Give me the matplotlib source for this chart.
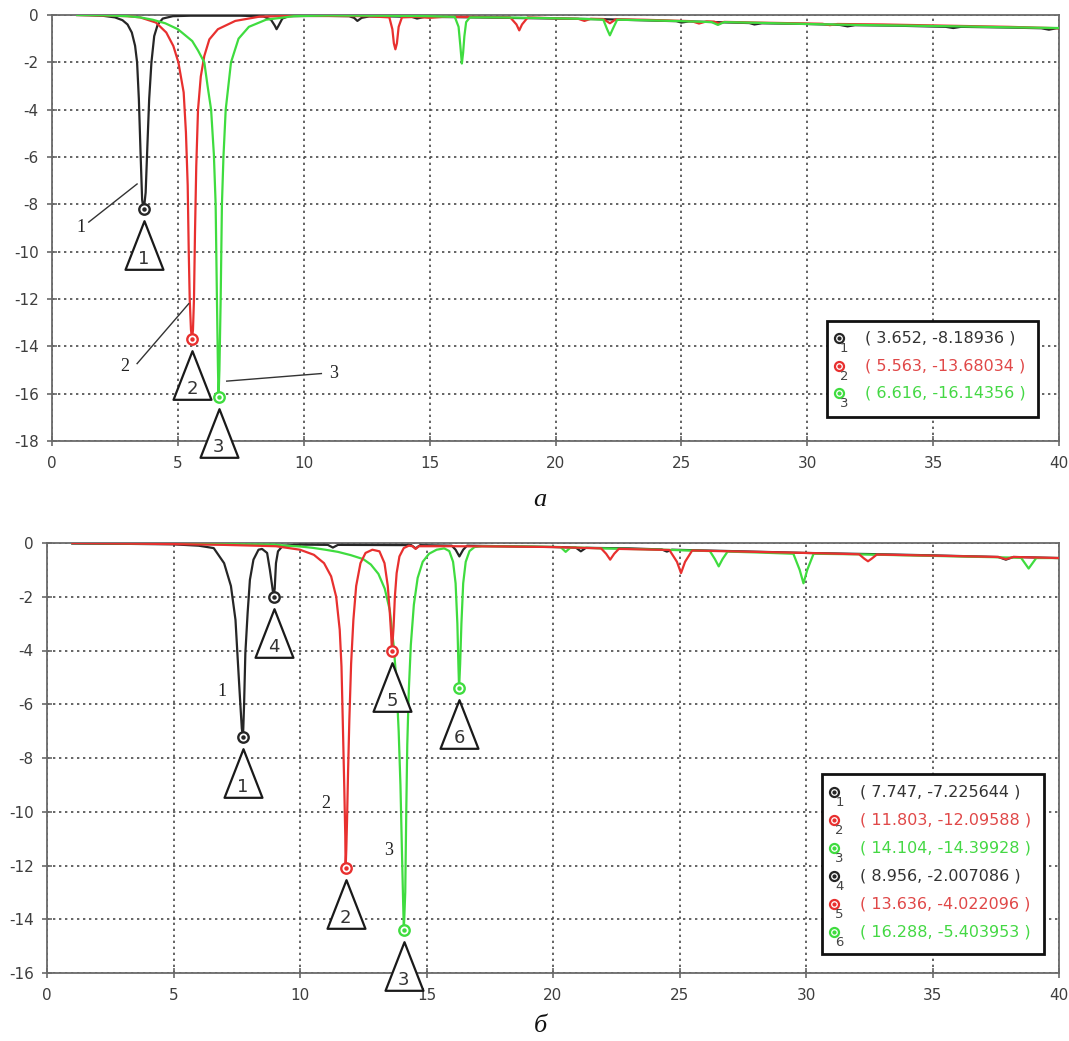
import matplotlib
matplotlib.use("Agg")
import matplotlib.pyplot as plt
from matplotlib.path import Path
from matplotlib.patches import Rectangle
import matplotlib.transforms as mtransforms

plt.rcParams['axes.unicode_minus'] = False
plt.rcParams['font.family'] = ['DejaVu Sans']

# ---------------- panel "а" data ----------------
a_k_x = [1.0, 1.5, 2.0, 2.5, 2.8, 3.0, 3.17, 3.3, 3.38, 3.45, 3.52, 3.58, 3.62, 3.652, 3.69, 3.72,
         3.79, 3.86, 3.95, 4.06, 4.2, 4.4, 4.8, 5.5, 6.5, 7.5, 8.4, 8.7, 8.85, 8.92, 9.0, 9.15, 9.4,
         10.0, 11.0, 11.8, 12.0, 12.13, 12.3, 12.6, 13.5, 14.3, 14.5, 14.8, 16.0, 18.0, 20.0, 22.0,
         24.0, 24.8, 25.0, 25.3, 27.0, 27.7, 27.9, 28.2, 30.0, 31.3, 31.6, 31.9, 33.5, 35.5, 35.8,
         36.1, 38.0, 39.3, 39.6, 39.9, 40.0]
a_k_y = [0.0, -0.01, -0.03, -0.1, -0.22, -0.4, -0.74, -1.3, -2.0, -3.55, -5.9, -7.8, -8.1, -8.19,
         -7.8, -7.5, -5.5, -3.55, -2.0, -0.89, -0.4, -0.15, -0.05, -0.03, -0.03, -0.03, -0.06, -0.2,
         -0.45, -0.6, -0.45, -0.15, -0.05, -0.04, -0.04, -0.05, -0.12, -0.25, -0.12, -0.06, -0.06,
         -0.08, -0.15, -0.08, -0.09, -0.12, -0.15, -0.18, -0.24, -0.26, -0.32, -0.27, -0.32, -0.34,
         -0.4, -0.35, -0.38, -0.42, -0.48, -0.43, -0.45, -0.5, -0.55, -0.5, -0.53, -0.56, -0.62,
         -0.56, -0.56]

a_r_x = [1.0, 2.0, 3.0, 3.5, 4.13, 4.54, 4.82, 5.02, 5.23, 5.32, 5.39, 5.43, 5.47, 5.52, 5.563,
         5.6, 5.64, 5.68, 5.73, 5.8, 5.91, 6.05, 6.25, 6.59, 7.28, 8.24, 9.5, 11.0, 12.5, 13.4,
         13.52, 13.58, 13.64, 13.7, 13.77, 13.9, 14.5, 15.0, 15.5, 16.5, 18.2, 18.45, 18.56, 18.67,
         18.9, 20.0, 20.9, 21.15, 21.4, 21.9, 22.16, 22.4, 23.5, 25.4, 25.7, 26.0, 26.3, 26.5, 26.7,
         28.0, 30.6, 30.9, 31.2, 33.0, 36.0, 38.0, 40.0]
a_r_y = [0.0, -0.02, -0.05, -0.1, -0.32, -0.74, -1.31, -2.0, -3.27, -4.96, -7.2, -9.9, -12.0,
         -13.3, -13.68, -13.3, -12.0, -9.2, -6.4, -4.0, -2.6, -1.73, -1.03, -0.6, -0.25, -0.07,
         -0.04, -0.04, -0.05, -0.1, -0.6, -1.2, -1.45, -1.2, -0.5, -0.1, -0.08, -0.12, -0.08, -0.08,
         -0.1, -0.4, -0.65, -0.4, -0.1, -0.14, -0.16, -0.25, -0.16, -0.17, -0.35, -0.18, -0.2,
         -0.26, -0.36, -0.27, -0.28, -0.36, -0.29, -0.32, -0.37, -0.43, -0.38, -0.4, -0.46, -0.5,
         -0.56]

a_g_x = [1.0, 2.0, 3.0, 3.5, 4.0, 4.5, 5.0, 5.57, 5.8, 6.05, 6.18, 6.32, 6.43, 6.5, 6.55, 6.59,
         6.616, 6.65, 6.7, 6.75, 6.81, 6.9, 7.11, 7.41, 7.82, 8.5, 9.6, 11.0, 13.0, 15.0, 16.0,
         16.15, 16.22, 16.28, 16.33, 16.38, 16.45, 16.6, 17.5, 19.0, 20.0, 21.0, 21.9, 22.05, 22.16,
         22.27, 22.45, 23.5, 25.0, 26.2, 26.45, 26.7, 28.0, 30.0, 32.0, 34.0, 36.0, 38.0, 40.0]
a_g_y = [0.0, -0.01, -0.05, -0.1, -0.2, -0.35, -0.6, -1.1, -1.5, -2.0, -3.0, -4.0, -5.9, -8.0,
         -11.9, -14.8, -16.14, -15.0, -12.0, -8.0, -6.0, -4.0, -2.0, -1.0, -0.5, -0.2, -0.05, -0.02,
         -0.03, -0.05, -0.08, -0.5, -1.3, -2.05, -1.6, -0.9, -0.3, -0.1, -0.1, -0.12, -0.14, -0.16,
         -0.2, -0.6, -0.86, -0.6, -0.2, -0.22, -0.26, -0.3, -0.42, -0.3, -0.33, -0.38, -0.42, -0.45,
         -0.48, -0.52, -0.55]

a_mark_x = [3.652, 5.563, 6.616]
a_mark_y = [-8.18936, -13.68034, -16.14356]

# ---------------- panel "б" data ----------------
b_k_x = [1.0, 3.0, 5.0, 6.0, 6.59, 7.0, 7.27, 7.45, 7.54, 7.64, 7.7, 7.747, 7.79, 7.84, 7.93, 8.02,
         8.16, 8.36, 8.5, 8.7, 8.81, 8.9, 8.956, 9.0, 9.05, 9.13, 9.32, 10.0, 11.1, 11.3, 11.5,
         14.4, 14.57, 14.75, 16.0, 16.15, 16.3, 16.45, 16.6, 18.0, 20.0, 20.9, 21.1, 21.3, 23.0,
         24.3, 24.5, 24.7, 27.0, 30.0, 33.0, 35.0, 37.6, 37.9, 38.2, 40.0]
b_k_y = [-0.02, -0.03, -0.05, -0.1, -0.19, -0.75, -1.6, -2.86, -4.35, -5.97, -6.9, -7.23, -6.0,
         -4.1, -2.6, -1.37, -0.62, -0.25, -0.22, -0.37, -1.0, -1.6, -2.0, -1.7, -0.75, -0.31, -0.1,
         -0.06, -0.07, -0.17, -0.07, -0.08, -0.2, -0.08, -0.1, -0.25, -0.5, -0.25, -0.1, -0.12,
         -0.15, -0.17, -0.31, -0.18, -0.2, -0.24, -0.32, -0.25, -0.3, -0.37, -0.42, -0.46, -0.52,
         -0.62, -0.52, -0.56]

b_r_x = [1.0, 3.0, 5.0, 7.0, 9.05, 10.0, 10.55, 10.95, 11.23, 11.43, 11.57, 11.64, 11.69, 11.75,
         11.79, 11.803, 11.83, 11.86, 11.9, 11.95, 12.02, 12.11, 12.22, 12.39, 12.59, 12.86, 13.14,
         13.34, 13.47, 13.55, 13.6, 13.636, 13.7, 13.75, 13.82, 13.93, 14.1, 14.3, 14.45, 14.57,
         14.7, 16.0, 18.0, 20.0, 21.9, 22.1, 22.26, 22.42, 22.6, 24.6, 24.9, 25.06, 25.22, 25.5,
         28.0, 30.0, 32.1, 32.3, 32.45, 32.6, 32.8, 35.0, 37.6, 37.9, 38.2, 40.0]
b_r_y = [0.0, -0.02, -0.04, -0.07, -0.12, -0.25, -0.44, -0.75, -1.24, -2.0, -3.23, -4.6, -6.6,
         -9.1, -10.9, -12.1, -11.4, -10.3, -8.5, -6.6, -4.5, -2.86, -1.6, -0.75, -0.37, -0.25,
         -0.31, -0.75, -1.6, -2.6, -3.36, -4.02, -3.1, -2.0, -1.12, -0.5, -0.19, -0.1, -0.12,
         -0.22, -0.12, -0.12, -0.13, -0.15, -0.2, -0.4, -0.62, -0.4, -0.22, -0.26, -0.7, -1.12,
         -0.7, -0.28, -0.33, -0.37, -0.42, -0.58, -0.68, -0.58, -0.43, -0.47, -0.52, -0.6, -0.52,
         -0.56]

b_g_x = [1.0, 5.0, 9.0, 9.45, 10.0, 10.5, 11.0, 11.5, 12.0, 12.5, 12.8, 13.1, 13.35, 13.55, 13.7,
         13.8, 13.9, 13.97, 14.03, 14.08, 14.104, 14.16, 14.2, 14.24, 14.3, 14.38, 14.5, 14.65,
         14.85, 15.1, 15.4, 15.7, 15.9, 16.05, 16.15, 16.22, 16.26, 16.288, 16.33, 16.38, 16.45,
         16.55, 16.7, 16.9, 17.2, 19.0, 20.3, 20.5, 20.7, 22.0, 24.0, 26.2, 26.4, 26.55, 26.7,
         26.9, 28.0, 29.5, 29.75, 29.9, 30.05, 30.3, 32.0, 35.0, 38.5, 38.8, 39.1, 40.0]
b_g_y = [0.0, -0.03, -0.06, -0.1, -0.13, -0.18, -0.25, -0.33, -0.45, -0.6, -0.8, -1.15, -1.7,
         -2.5, -3.8, -5.0, -7.0, -9.0, -11.5, -13.5, -14.4, -13.0, -10.0, -7.5, -5.5, -3.8, -2.3,
         -1.3, -0.7, -0.4, -0.25, -0.2, -0.3, -0.7, -1.5, -3.0, -4.5, -5.4, -4.5, -3.0, -1.5, -0.7,
         -0.3, -0.15, -0.12, -0.13, -0.15, -0.33, -0.16, -0.2, -0.24, -0.3, -0.6, -0.87, -0.6,
         -0.32, -0.35, -0.4, -1.0, -1.5, -1.0, -0.4, -0.42, -0.48, -0.55, -0.95, -0.56, -0.56]

b_mark_x = [7.747, 11.803, 14.104, 8.956, 13.636, 16.288]
b_mark_y = [-7.225644, -12.09588, -14.39928, -2.007086, -4.022096, -5.403953]

x_ticks = [0, 5, 10, 15, 20, 25, 30, 35, 40]
a_y_ticks = [0, -2, -4, -6, -8, -10, -12, -14, -16, -18]
b_y_ticks = [0, -2, -4, -6, -8, -10, -12, -14, -16]

BLACK = '#262626'
RED = '#e8302f'
GREEN = '#3fdc3f'
a_mark_col = [BLACK, RED, GREEN]
b_mark_col = [BLACK, RED, GREEN, BLACK, RED, GREEN]
LEG_TXT = {BLACK: '#333333', RED: '#e04848', GREEN: '#44d844'}

fig = plt.figure(figsize=(10.69, 10.41), dpi=100)
ax_a = fig.add_axes([52 / 1069, 1 - 441 / 1041, 1007 / 1069, 426 / 1041])
ax_b = fig.add_axes([47 / 1069, 1 - 973 / 1041, 1012 / 1069, 430 / 1041])

tri_path = Path([(-0.39, -0.5), (0.0, 0.5), (0.39, -0.5), (-0.39, -0.5)],
                [Path.MOVETO, Path.LINETO, Path.LINETO, Path.CLOSEPOLY])


def style_axes(ax, yticks):
    ax.set_xlim(0, 40)
    ax.set_ylim(min(yticks), 0)
    ax.set_xticks(x_ticks)
    ax.set_yticks(yticks)
    ax.set_xticklabels([str(t) for t in x_ticks])
    ax.set_yticklabels([str(t) for t in yticks])
    ax.grid(True, color='#4a4a4a', linestyle=(0, (1.4, 2.2)), linewidth=1.2)
    ax.set_axisbelow(True)
    for s in ax.spines.values():
        s.set_color('#6a6a6a')
        s.set_linewidth(1.3)
    ax.tick_params(direction='inout', length=7, width=1.2, color='#6a6a6a',
                   labelcolor='#3e3e3e', labelsize=11)
    ax.tick_params(axis='x', pad=7)
    ax.tick_params(axis='y', pad=6)


def draw_markers(ax, mx, my, cols):
    tri_off = mtransforms.offset_copy(ax.transData, fig=fig, x=0, y=-26, units='points')
    num_off = mtransforms.offset_copy(ax.transData, fig=fig, x=0, y=-36, units='points')
    for i, (x, y, c) in enumerate(zip(mx, my, cols)):
        ax.plot([x], [y], 'o', ms=7.5, mfc='white', mec=c, mew=1.7, zorder=6, clip_on=False)
        ax.plot([x], [y], 'o', ms=2.2, color=c, zorder=7, clip_on=False)
        ax.plot([x], [y], marker=tri_path, ms=35, mfc='white', mec='#1a1a1a', mew=1.6,
                transform=tri_off, zorder=8, clip_on=False)
        ax.text(x, y, str(i + 1), transform=num_off, ha='center', va='center',
                fontsize=13, color='#333333', zorder=9, clip_on=False)


def draw_legend(ax, mx, my, cols, box, y0, dy, xm, xt):
    ax.add_patch(Rectangle((box[0], box[1]), box[2] - box[0], box[3] - box[1],
                           transform=ax.transAxes, facecolor='white', edgecolor='#111111',
                           linewidth=2.0, zorder=10))
    for i, (x, y, c) in enumerate(zip(mx, my, cols)):
        yy = y0 - i * dy
        ax.plot([xm], [yy], 'o', ms=6.5, mfc='white', mec=c, mew=1.6,
                transform=ax.transAxes, zorder=11, clip_on=False)
        ax.plot([xm], [yy], 'o', ms=2.0, color=c, transform=ax.transAxes, zorder=12,
                clip_on=False)
        ax.text(xm + 0.005, yy - 0.025, str(i + 1), transform=ax.transAxes, ha='center',
                va='center', fontsize=9.5, color='#444444', zorder=12)
        ax.text(xt, yy, f"( {x}, {y} )", transform=ax.transAxes, ha='left', va='center',
                fontsize=11.5, color=LEG_TXT[c], zorder=12)


SERIF = ['Liberation Serif', 'DejaVu Serif']

# ---- panel а ----
style_axes(ax_a, a_y_ticks)
ax_a.plot(a_k_x, a_k_y, color=BLACK, lw=1.6, zorder=3)
ax_a.plot(a_r_x, a_r_y, color=RED, lw=1.6, zorder=4)
ax_a.plot(a_g_x, a_g_y, color=GREEN, lw=1.6, zorder=5)
draw_markers(ax_a, a_mark_x, a_mark_y, a_mark_col)
draw_legend(ax_a, a_mark_x, a_mark_y, a_mark_col, (0.770, 0.056, 0.979, 0.282),
            0.2418, 0.0646, 0.7815, 0.807)
# leader labels
for (tx, ty), (x1, y1, x2, y2) in [((1.15, -8.96), (1.46, -8.75, 3.38, -7.14)),
                                  ((2.9, -14.87), (3.38, -14.73, 5.43, -12.2)),
                                  ((11.18, -15.15), (10.7, -15.15, 6.94, -15.47))]:
    ax_a.plot([x1, x2], [y1, y2], color='#333333', lw=1.0, zorder=6)
for lbl, (tx, ty) in zip(['1', '2', '3'], [(1.15, -8.96), (2.9, -14.87), (11.18, -15.15)]):
    ax_a.text(tx, ty, lbl, ha='center', va='center', fontsize=13, color='#222222',
              family=SERIF, zorder=6)

# ---- panel б ----
style_axes(ax_b, b_y_ticks)
ax_b.plot(b_k_x, b_k_y, color=BLACK, lw=1.6, zorder=3)
ax_b.plot(b_g_x, b_g_y, color=GREEN, lw=1.6, zorder=4)
ax_b.plot(b_r_x, b_r_y, color=RED, lw=1.6, zorder=5)
draw_markers(ax_b, b_mark_x, b_mark_y, b_mark_col)
draw_legend(ax_b, b_mark_x, b_mark_y, b_mark_col, (0.766, 0.044, 0.985, 0.463),
            0.421, 0.0651, 0.778, 0.803)
for lbl, (tx, ty) in zip(['1', '2', '3'], [(6.93, -5.53), (11.02, -9.7), (13.5, -11.44)]):
    ax_b.text(tx, ty, lbl, ha='center', va='center', fontsize=13, color='#222222',
              family=SERIF, zorder=6)

fig.text(540 / 1069, 1 - 500 / 1041, 'а', ha='center', va='center', fontsize=19,
         style='italic', family=SERIF, color='#111111')
fig.text(540 / 1069, 1 - 1026 / 1041, 'б', ha='center', va='center', fontsize=19,
         style='italic', family=SERIF, color='#111111')

fig.savefig('out.png', dpi=100, facecolor='white')
